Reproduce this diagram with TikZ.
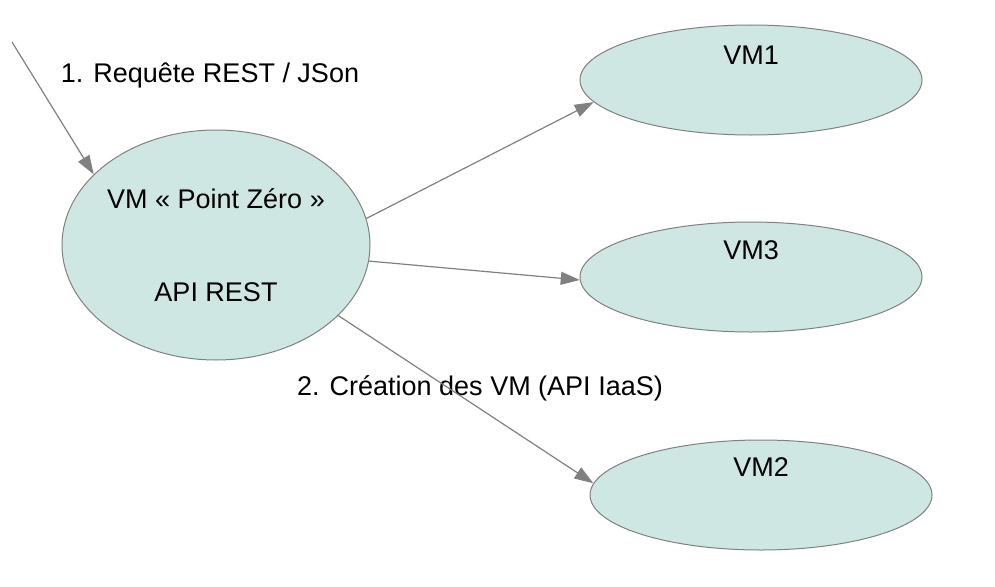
\documentclass[tikz,border=0pt]{standalone}
\usepackage{fontspec}
\setmainfont{Liberation Sans}
\usetikzlibrary{shapes.geometric,arrows.meta}

\definecolor{vmfill}{HTML}{CFE7E3}
\definecolor{lnclr}{HTML}{808080}

\begin{document}
\begin{tikzpicture}[x=1pt,y=1pt,
  vm/.style={ellipse, draw=lnclr, fill=vmfill, line width=1pt, inner sep=0pt, minimum width=342pt, minimum height=110pt},
  txt/.style={font=\fontsize{27}{32}\selectfont, inner sep=0pt},
  ln/.style={draw=lnclr, line width=1.2pt, -{Triangle[length=19pt,width=13pt]}}
]
\useasboundingbox (0,0) rectangle (995,-586);
\node[vm, minimum width=308pt, minimum height=230pt, align=center, font=\fontsize{27}{93}\selectfont] (pz) at (216,-245) {VM « Point Zéro »\\API REST};
\node[vm] (vm1) at (751,-80) {};
\node[vm] (vm3) at (751,-277) {};
\node[vm] (vm2) at (761,-495) {};
\node[txt] (vm1t) at (751,-55) {VM1};
\node[txt] (vm3t) at (751,-250) {VM3};
\node[txt] (vm2t) at (761,-467) {VM2};
\node[txt] (req) at (210,-75) {1. Requête REST / JSon};
\node[txt] (crea) at (480,-388) {2. Création des VM (API IaaS)};
\coordinate (src) at (12,-42);
\draw[ln] (src) -- (pz.150);
\draw[ln] (pz.10) -- (vm1.188);
\draw[ln] (pz.354) -- (vm3.181);
\draw[ln] (pz.330) -- (vm2.176);
\end{tikzpicture}
\end{document}
